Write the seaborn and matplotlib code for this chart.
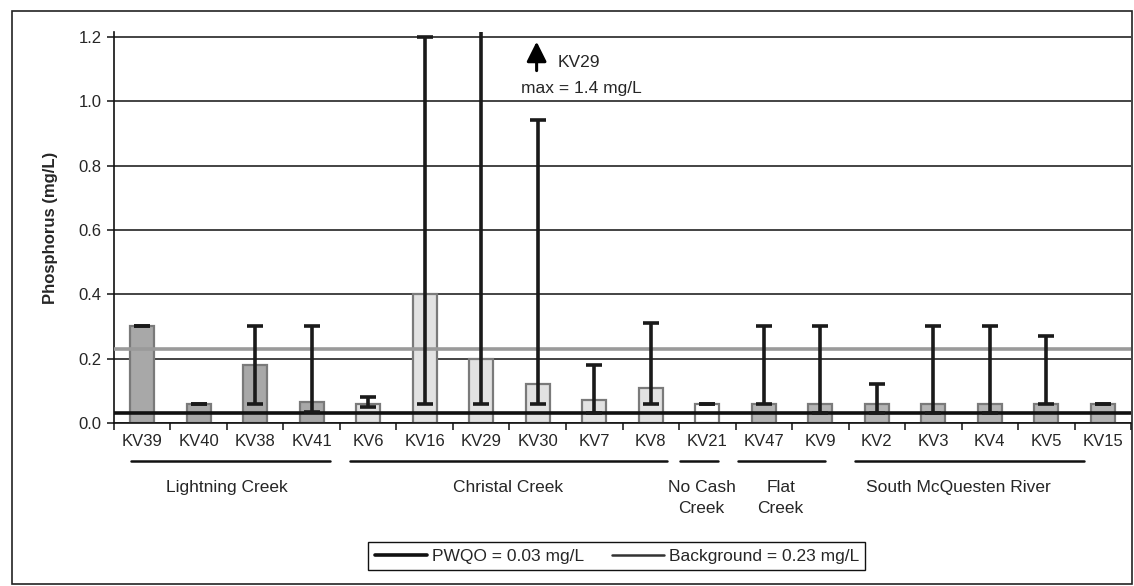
import numpy as np
import pandas as pd
import matplotlib
matplotlib.use("Agg")
import matplotlib.pyplot as plt
import matplotlib.transforms as mtransforms
from matplotlib.lines import Line2D
from matplotlib.patches import Rectangle
import seaborn as sns

# ---------------------------------------------------------
# Data
# ---------------------------------------------------------
sites = ["KV39", "KV40", "KV38", "KV41",
         "KV6", "KV16", "KV29", "KV30", "KV7", "KV8",
         "KV21",
         "KV47", "KV9",
         "KV2", "KV3", "KV4", "KV5", "KV15"]
groups = ["Lightning"] * 4 + ["Christal"] * 6 + ["NoCash"] + ["Flat"] * 2 + ["South"] * 5
mean_p = [0.30, 0.06, 0.18, 0.065,
          0.06, 0.40, 0.20, 0.12, 0.07, 0.11,
          0.06,
          0.06, 0.06,
          0.06, 0.06, 0.06, 0.06, 0.06]
min_p = [0.30, 0.06, 0.06, 0.035,
         0.05, 0.06, 0.06, 0.06, 0.03, 0.06,
         0.06,
         0.06, 0.03,
         0.03, 0.03, 0.03, 0.06, 0.06]
max_p = [0.30, 0.06, 0.30, 0.30,
         0.08, 1.20, 1.40, 0.94, 0.18, 0.31,
         0.06,
         0.30, 0.30,
         0.12, 0.30, 0.30, 0.27, 0.06]

group_labels = ["Lightning Creek", "Christal Creek", "No Cash\nCreek", "Flat\nCreek",
                "South McQuesten River"]
group_label_x = [1.5, 6.47, 9.9, 11.3, 14.45]
group_line_span = [(-0.19, 3.32), (3.67, 9.28), (9.51, 10.19), (10.54, 12.08), (12.61, 16.66)]

group_colors = {"Lightning": "#a8a8a8", "Christal": "#e2e2e2", "NoCash": "#ffffff",
                "Flat": "#b4b4b4", "South": "#b4b4b4"}

PWQO = 0.03
BACKGROUND = 0.23

df = pd.DataFrame({"site": sites, "group": groups, "P": mean_p,
                   "Pmin": min_p, "Pmax": max_p})

# ---------------------------------------------------------
# Plot
# ---------------------------------------------------------
sns.set_theme(style="ticks")
plt.rcParams["font.family"] = ["Liberation Sans", "DejaVu Sans"]

fig, ax = plt.subplots(figsize=(11.34, 5.86), dpi=100)
fig.subplots_adjust(left=0.1005, right=0.9974, bottom=0.2782, top=0.9454)

bar_palette = [group_colors[g] for g in df["group"]]
sns.barplot(data=df, x="site", y="P", hue="site", palette=bar_palette, legend=False,
            width=0.43, edgecolor="#7a7a7a", linewidth=1.6, saturation=1,
            ax=ax, zorder=2)

xpos = np.arange(len(df))
ax.errorbar(xpos, df["P"], yerr=[df["P"] - df["Pmin"], df["Pmax"] - df["P"]],
            fmt="none", ecolor="#1a1a1a", elinewidth=2.6, capsize=5.5, capthick=2.6,
            zorder=5)

ax.axhline(PWQO, color="#111111", lw=2.6, zorder=4)
ax.axhline(BACKGROUND, color="#9a9a9a", lw=2.6, zorder=4)

# axes styling
ax.set_ylim(0, 1.215)
ax.set_xlim(-0.5, len(df) - 0.5)
ax.set_yticks(np.arange(0, 1.21, 0.2))
ax.set_yticklabels([f"{v:.1f}" for v in np.arange(0, 1.21, 0.2)], fontsize=12)
ax.yaxis.grid(True, color="#111111", lw=1.1)
ax.set_axisbelow(True)
sns.despine(ax=ax, top=True, right=True)
ax.spines["left"].set_color("#111111")
ax.spines["bottom"].set_color("#111111")
ax.spines["left"].set_linewidth(1.2)
ax.spines["bottom"].set_linewidth(1.2)
ax.tick_params(axis="y", length=5, width=1.1, color="#111111", pad=4)
ax.tick_params(axis="x", which="major", length=0, pad=8, labelsize=12)
ax.set_xticks(np.arange(-0.5, len(df), 1.0), minor=True)
ax.tick_params(axis="x", which="minor", length=5, width=1.1, color="#111111")
ax.set_xlabel("")
ax.set_ylabel("Phosphorus (mg/L)", fontsize=12, fontweight="bold", labelpad=15)

# annotation for the clipped KV29 maximum
ax.annotate("", xy=(6.98, 1.185), xytext=(6.98, 1.095),
            arrowprops=dict(arrowstyle="-|>,head_width=0.5,head_length=1.0",
                            mutation_scale=12, color="black", lw=2.2,
                            shrinkA=0, shrinkB=0))
ax.text(7.35, 1.12, "KV29", fontsize=12.5, va="center", ha="left")
ax.text(7.78, 1.04, "max = 1.4 mg/L", fontsize=12.5, va="center", ha="center")

# group underlines and labels below the axis
blend = mtransforms.blended_transform_factory(ax.transData, fig.transFigure)
for (x0, x1), lab, lx in zip(group_line_span, group_labels, group_label_x):
    fig.add_artist(Line2D([x0, x1], [0.2133, 0.2133], transform=blend,
                          color="#111111", lw=1.8))
    fig.text(lx, 0.181, lab, transform=blend, ha="center", va="top",
             fontsize=12.5, linespacing=1.5)

# legend
handles = [Line2D([], [], color="#111111", lw=2.6),
           Line2D([], [], color="#333333", lw=1.8)]
leg = fig.legend(handles, [f"PWQO = {PWQO:.2f} mg/L", f"Background = {BACKGROUND:.2f} mg/L"],
                 loc="center", bbox_to_anchor=(0.544, 0.051), ncol=2, fontsize=12.5,
                 frameon=True, fancybox=False, framealpha=1, edgecolor="#111111",
                 handlelength=3.0, handletextpad=0.3, columnspacing=1.6,
                 borderpad=0.35, borderaxespad=0)
leg.get_frame().set_linewidth(1.0)

# outer border around the figure
fig.add_artist(Rectangle((0.0106, 0.004), 0.988, 0.977, transform=fig.transFigure,
                         fill=False, edgecolor="#222222", lw=1.2))

fig.savefig("out.png", dpi=100)
plt.close(fig)
